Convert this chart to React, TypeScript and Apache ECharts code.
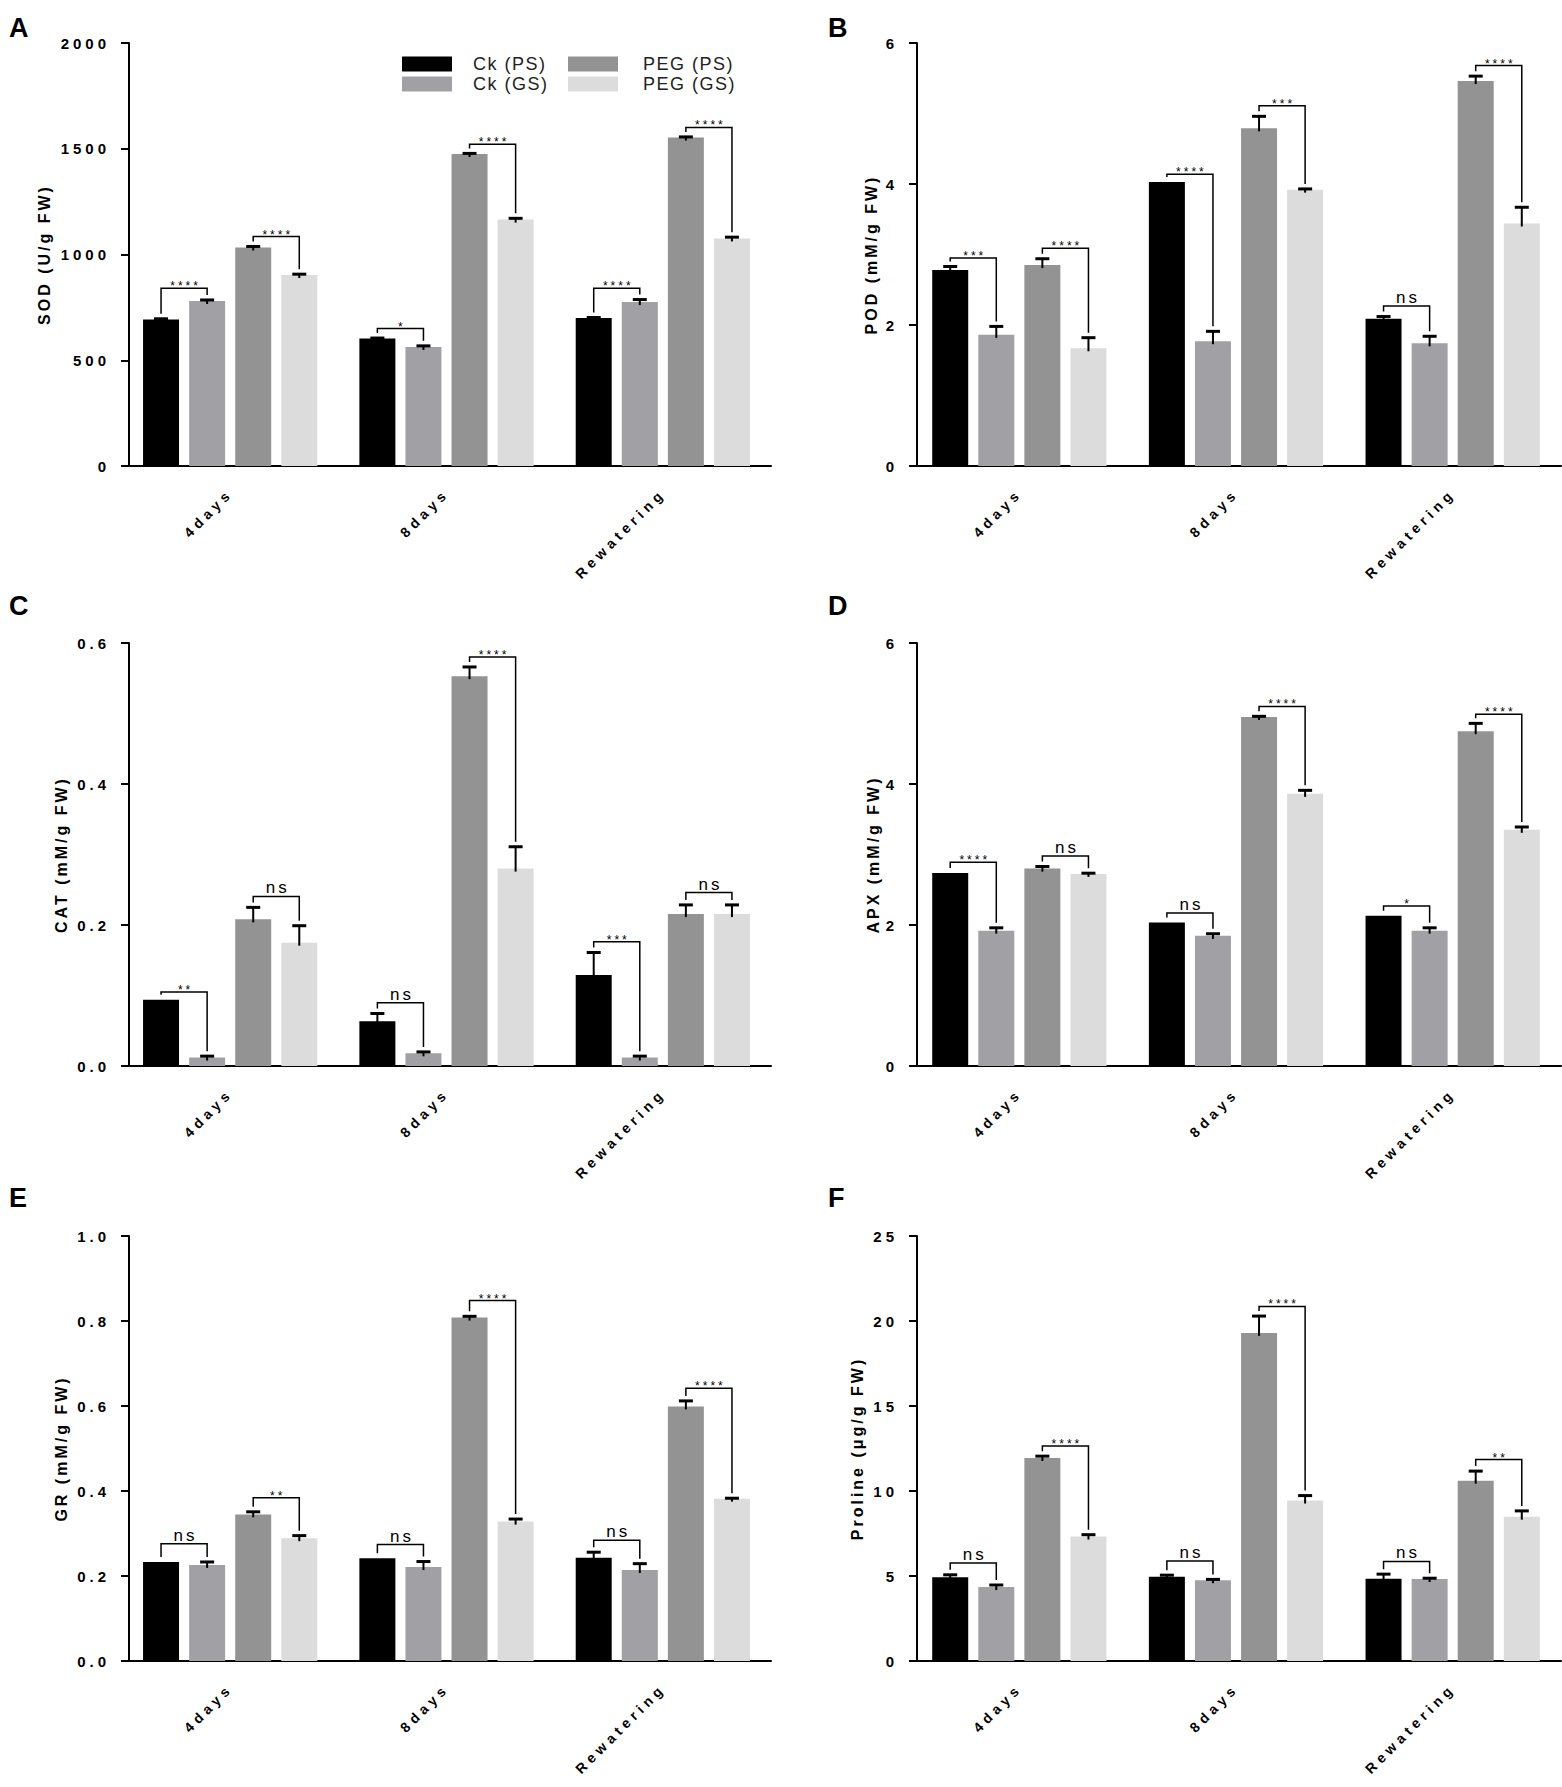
import React, { useEffect, useRef } from 'react';
import * as echarts from 'echarts';

const CATEGORIES = ['4days', '8days', 'Rewatering'];
const SERIES_NAMES = ['Ck (PS)', 'Ck (GS)', 'PEG (PS)', 'PEG (GS)'];
const SERIES_COLORS = ['#000000', '#a1a1a5', '#939393', '#dcdcdc'];

// Each *_MEAN / *_SD row = one series (Ck PS, Ck GS, PEG PS, PEG GS), columns = categories
// Each *_BRACKET / *_SIG: per category [Ck pair, PEG pair]

// A: SOD
const SOD_MEAN = [
  [693, 603, 700],
  [780, 563, 775],
  [1033, 1475, 1553],
  [903, 1165, 1076],
];
const SOD_SD = [
  [3, 2, 2],
  [5, 5, 12],
  [5, 3, 3],
  [4, 6, 6],
];
const SOD_BRACKET = [840, 1085, 650, 1521, 840, 1601];
const SOD_SIG = ['****', '****', '*', '****', '****', '****'];
const SOD_AXIS = [0, 2000, 500];

// B: POD
const POD_MEAN = [
  [2.78, 4.03, 2.09],
  [1.86, 1.77, 1.74],
  [2.85, 4.79, 5.46],
  [1.67, 3.92, 3.44],
];
const POD_SD = [
  [0.05, 0, 0.03],
  [0.12, 0.14, 0.1],
  [0.09, 0.17, 0.07],
  [0.15, 0.01, 0.23],
];
const POD_BRACKET = [2.95, 3.09, 4.14, 5.11, 2.27, 5.68];
const POD_SIG = ['***', '****', '****', '***', 'ns', '****'];
const POD_AXIS = [0, 6, 2];

// C: CAT
const CAT_MEAN = [
  [0.094, 0.0635, 0.129],
  [0.012, 0.018, 0.012],
  [0.208, 0.553, 0.2155],
  [0.175, 0.28, 0.2155],
];
const CAT_SD = [
  [0, 0.011, 0.032],
  [0.002, 0.002, 0.002],
  [0.017, 0.013, 0.013],
  [0.024, 0.031, 0.013],
];
const CAT_BRACKET = [0.105, 0.2405, 0.0896, 0.58, 0.1764, 0.246];
const CAT_SIG = ['**', 'ns', 'ns', '****', '***', 'ns'];
const CAT_AXIS = [0, 0.6, 0.2];

// D: APX
const APX_MEAN = [
  [2.736, 2.036, 2.13],
  [1.92, 1.846, 1.92],
  [2.8, 4.95, 4.75],
  [2.725, 3.86, 3.35],
];
const APX_SD = [
  [0, 0, 0],
  [0.04, 0.03, 0.04],
  [0.03, 0.01, 0.11],
  [0.01, 0.05, 0.04],
];
const APX_BRACKET = [2.89, 2.98, 2.17, 5.1, 2.27, 4.99];
const APX_SIG = ['****', 'ns', 'ns', '****', '*', '****'];
const APX_AXIS = [0, 6, 2];

// E: GR
const GR_MEAN = [
  [0.233, 0.242, 0.243],
  [0.226, 0.221, 0.214],
  [0.345, 0.808, 0.599],
  [0.289, 0.328, 0.382],
];
const GR_SD = [
  [0, 0, 0.013],
  [0.007, 0.013, 0.015],
  [0.006, 0.003, 0.013],
  [0.006, 0.006, 0.001],
];
const GR_BRACKET = [0.276, 0.384, 0.274, 0.848, 0.284, 0.642];
const GR_SIG = ['ns', '**', 'ns', '****', 'ns', '****'];
const GR_AXIS = [0, 1, 0.2];

// F: Proline
const PRO_MEAN = [
  [4.93, 4.95, 4.84],
  [4.35, 4.75, 4.82],
  [11.94, 19.3, 10.61],
  [7.32, 9.44, 8.49],
];
const PRO_SD = [
  [0.14, 0.1, 0.27],
  [0.12, 0.05, 0.05],
  [0.11, 0.99, 0.56],
  [0.11, 0.29, 0.34],
];
const PRO_BRACKET = [5.77, 12.64, 5.88, 20.86, 5.86, 11.85];
const PRO_SIG = ['ns', '****', 'ns', '****', 'ns', '**'];
const PRO_AXIS = [0, 25, 5];

const PANELS = [
  { letter: 'A', title: 'SOD (U/g FW)', mean: SOD_MEAN, sd: SOD_SD, bracket: SOD_BRACKET, sig: SOD_SIG, axis: SOD_AXIS, decimals: 0 },
  { letter: 'B', title: 'POD (mM/g FW)', mean: POD_MEAN, sd: POD_SD, bracket: POD_BRACKET, sig: POD_SIG, axis: POD_AXIS, decimals: 0 },
  { letter: 'C', title: 'CAT (mM/g FW)', mean: CAT_MEAN, sd: CAT_SD, bracket: CAT_BRACKET, sig: CAT_SIG, axis: CAT_AXIS, decimals: 1 },
  { letter: 'D', title: 'APX (mM/g FW)', mean: APX_MEAN, sd: APX_SD, bracket: APX_BRACKET, sig: APX_SIG, axis: APX_AXIS, decimals: 0 },
  { letter: 'E', title: 'GR (mM/g FW)', mean: GR_MEAN, sd: GR_SD, bracket: GR_BRACKET, sig: GR_SIG, axis: GR_AXIS, decimals: 1 },
  { letter: 'F', title: 'Proline (μg/g FW)', mean: PRO_MEAN, sd: PRO_SD, bracket: PRO_BRACKET, sig: PRO_SIG, axis: PRO_AXIS, decimals: 0 },
];

// layout
const FONT = '"Liberation Sans", Arial, Helvetica, sans-serif';
const COL_LEFT = [122, 911];
const COL_WIDTH = [649, 650];
const ROW_TOP = [43, 643, 1236];
const ROW_HEIGHT = [423, 423, 425];
const AXIS_SHIFT = [-7, -6];
const NAME_GAP = [77, 38, 60, 36, 60, 52];
const LETTER_POS = [[9, 14], [828, 14], [9, 592], [828, 592], [9, 1184], [828, 1184]];
const BAR_WIDTH = 36;
const BAR_GAP = 0.28;
const STEP = BAR_WIDTH * (1 + BAR_GAP);

// font sizes (each role has its own size so that letter spacing can be applied per role)
const FS_TICK = 15;
const FS_CAT = 14;
const FS_NAME = 16;
const FS_NS = 17;
const FS_LEGEND = 18;
const FS_STAR = 12;
const LETTER_SPACING: Record<string, string> = {
  [FS_TICK]: '4px',
  [FS_CAT]: '4.5px',
  [FS_NAME]: '3px',
  [FS_NS]: '3px',
  [FS_LEGEND]: '1.5px',
  [FS_STAR]: '3px',
};

function buildOption() {
  const grid: any[] = [];
  const xAxis: any[] = [];
  const yAxis: any[] = [];
  const series: any[] = [];
  const graphic: any[] = [];

  PANELS.forEach((p, g) => {
    const col = g % 2;
    const row = Math.floor(g / 2);
    grid.push({ left: COL_LEFT[col], top: ROW_TOP[row], width: COL_WIDTH[col], height: ROW_HEIGHT[row] });
    xAxis.push({
      type: 'category',
      gridIndex: g,
      data: CATEGORIES,
      axisLine: { lineStyle: { color: '#000', width: 2 } },
      axisTick: { alignWithLabel: true, length: 11, lineStyle: { color: '#000', width: 2 } },
      axisLabel: {
        rotate: 45,
        margin: 25,
        color: '#000',
        fontSize: FS_CAT,
        fontWeight: 'bold',
        fontFamily: FONT,
      },
      splitLine: { show: false },
    });
    yAxis.push({
      type: 'value',
      gridIndex: g,
      min: p.axis[0],
      max: p.axis[1],
      interval: p.axis[2],
      offset: AXIS_SHIFT[col],
      name: p.title,
      nameLocation: 'middle',
      nameGap: NAME_GAP[g],
      nameRotate: 90,
      nameTextStyle: { color: '#000', fontSize: FS_NAME, fontWeight: 'bold', fontFamily: FONT },
      axisLine: { show: true, lineStyle: { color: '#000', width: 2 } },
      axisTick: { show: true, length: 8, lineStyle: { color: '#000', width: 2 } },
      axisLabel: {
        color: '#000',
        fontSize: FS_TICK,
        fontWeight: 'bold',
        fontFamily: FONT,
        margin: 19,
        formatter: (v: number) => v.toFixed(p.decimals),
      },
      splitLine: { show: false },
    });

    SERIES_NAMES.forEach((name, s) => {
      series.push({
        type: 'bar',
        name,
        xAxisIndex: g,
        yAxisIndex: g,
        data: p.mean[s],
        barWidth: BAR_WIDTH,
        barGap: `${BAR_GAP * 100}%`,
        itemStyle: { color: SERIES_COLORS[s] },
        z: 2,
      });
    });

    // error bars
    const errData: number[][] = [];
    for (let c = 0; c < CATEGORIES.length; c++) {
      for (let s = 0; s < SERIES_NAMES.length; s++) {
        errData.push([c, s, p.mean[s][c], p.sd[s][c]]);
      }
    }
    series.push({
      type: 'custom',
      xAxisIndex: g,
      yAxisIndex: g,
      data: errData,
      encode: { x: 0, y: 2 },
      clip: false,
      z: 5,
      silent: true,
      renderItem: (params: any, api: any) => {
        const c = api.value(0);
        const s = api.value(1);
        const m = api.value(2);
        const e = api.value(3);
        if (!(e > 0)) return { type: 'group', children: [] };
        const base = api.coord([c, m]);
        const top = api.coord([c, m + e]);
        const x = base[0] + (s - 1.5) * STEP;
        return {
          type: 'group',
          children: [
            { type: 'line', shape: { x1: x, y1: base[1] + 3, x2: x, y2: top[1] }, style: { stroke: '#000', lineWidth: 2 } },
            { type: 'line', shape: { x1: x - 7, y1: top[1], x2: x + 7, y2: top[1] }, style: { stroke: '#000', lineWidth: 3 } },
          ],
        };
      },
    });

    // significance brackets
    const sigData: number[][] = [];
    for (let c = 0; c < CATEGORIES.length; c++) {
      for (let k = 0; k < 2; k++) {
        const l = 2 * k;
        const r = 2 * k + 1;
        sigData.push([c, k, p.bracket[c * 2 + k], p.mean[l][c] + p.sd[l][c], p.mean[r][c] + p.sd[r][c]]);
      }
    }
    const sig = p.sig;
    series.push({
      type: 'custom',
      xAxisIndex: g,
      yAxisIndex: g,
      data: sigData,
      encode: { x: 0, y: 2 },
      clip: false,
      z: 6,
      silent: true,
      renderItem: (params: any, api: any) => {
        const c = api.value(0);
        const k = api.value(1);
        const lvl = api.value(2);
        const lt = api.value(3);
        const rt = api.value(4);
        const ctr = api.coord([c, lvl]);
        const xL = ctr[0] + (2 * k - 1.5) * STEP;
        const xR = ctr[0] + (2 * k + 1 - 1.5) * STEP;
        const yB = ctr[1];
        const yL = api.coord([c, lt])[1] - 5;
        const yR = api.coord([c, rt])[1] - 5;
        const label = sig[params.dataIndex];
        const isNs = label === 'ns';
        return {
          type: 'group',
          children: [
            {
              type: 'polyline',
              shape: { points: [[xL, yL], [xL, yB], [xR, yB], [xR, yR]] },
              style: { stroke: '#000', lineWidth: 1.5, fill: 'none' },
            },
            {
              type: 'text',
              x: (xL + xR) / 2 + 1.5,
              y: isNs ? yB : yB + 4,
              style: {
                text: label,
                fill: '#000',
                font: `${isNs ? FS_NS : FS_STAR}px ${FONT}`,
                textAlign: 'center',
                textVerticalAlign: 'bottom',
              },
            },
          ],
        };
      },
    });

    graphic.push({
      type: 'text',
      left: LETTER_POS[g][0],
      top: LETTER_POS[g][1],
      style: { text: p.letter, font: `bold 27px ${FONT}`, fill: '#000' },
    });
  });

  const legendCommon = {
    orient: 'vertical',
    top: 50,
    itemWidth: 50,
    itemHeight: 15,
    itemGap: 2,
    icon: 'rect',
    selectedMode: false,
    textStyle: { color: '#222', fontSize: FS_LEGEND, fontFamily: FONT, lineHeight: 18, padding: [0, 0, 0, 16] },
  };

  return {
    animation: false,
    backgroundColor: '#ffffff',
    grid,
    xAxis,
    yAxis,
    series,
    graphic,
    legend: [
      { ...legendCommon, left: 397, data: [SERIES_NAMES[0], SERIES_NAMES[1]] },
      { ...legendCommon, left: 563, data: [SERIES_NAMES[2], SERIES_NAMES[3]], textStyle: { ...legendCommon.textStyle, padding: [0, 0, 0, 20] } },
    ],
  };
}

function applyLetterSpacing(root: HTMLElement) {
  root.querySelectorAll('text').forEach((t) => {
    const fs = Math.round(parseFloat(window.getComputedStyle(t).fontSize));
    const ls = LETTER_SPACING[String(fs)];
    if (ls) (t as SVGTextElement).style.letterSpacing = ls;
  });
}

export default function App() {
  const ref = useRef<HTMLDivElement>(null);
  useEffect(() => {
    if (!ref.current) return;
    const el = ref.current;
    const chart = echarts.init(el, undefined, { renderer: 'svg' });
    chart.setOption(buildOption() as any);
    applyLetterSpacing(el);
    const onFinished = () => applyLetterSpacing(el);
    chart.on('finished', onFinished);
    return () => {
      chart.off('finished', onFinished);
      chart.dispose();
    };
  }, []);
  return (
    <div
      ref={ref}
      style={{ position: 'absolute', left: 0, top: 0, width: 1562, height: 1787, background: '#fff' }}
    />
  );
}
